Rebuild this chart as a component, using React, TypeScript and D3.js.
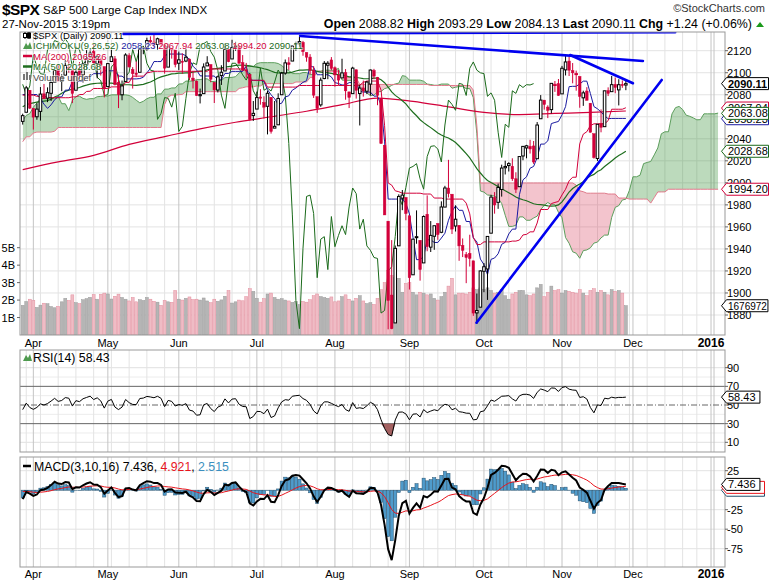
import React from 'react';
import * as d3 from 'd3';

// ---------- DATA ----------
// Warm-up history (3-Dec-2014 .. 26-Mar-2015): high / low / close
const priorHigh = [
  2076.3,2077.3,2079.5,2076.3,2060.6,2058.0,2055.5,2032.2,2018.7,2016.9,2016.9,2061.2,2077.9,2078.8,2086.7,2087.6,2092.7,2093.6,2088.5,2085.6,
  2072.4,2054.4,2030.3,2029.6,2064.1,2064.4,2049.3,2056.9,2018.4,2021.4,2020.5,2028.9,2038.3,2064.6,2062.9,2057.6,2047.9,2042.5,2024.6,2023.3,
  2021.7,2050.3,2054.7,2063.6,2072.4,2056.2,2070.9,2073.5,2088.5,2097.0,2101.3,2100.2,2102.1,2111.0,2110.1,2117.9,2119.6,2113.9,2112.7,
  2117.5,2115.8,2107.7,2104.3,2100.9,2083.5,2076.2,2050.1,2066.4,2064.6,2081.4,2080.6,2106.9,2098.7,2113.9,2114.9,2107.6,2097.4,2067.2];
const priorLow = [
  2066.6,2062.3,2070.8,2054.3,2034.2,2024.3,2026.4,2002.3,1982.3,1972.6,1974.1,2018.7,2061.0,2069.3,2078.8,2081.9,2084.4,2085.8,2079.5,2057.9,
  2046.0,2017.3,1992.4,2005.6,2030.6,2038.3,2022.6,2008.3,1988.4,1991.5,1988.1,2004.5,2012.0,2026.4,2050.5,2040.9,2019.9,2001.5,1989.2,1993.4,
  1980.9,2022.7,2036.7,2043.5,2049.0,2041.9,2048.6,2057.9,2069.9,2086.7,2089.8,2092.2,2090.8,2085.4,2103.0,2105.9,2109.9,2103.8,2103.8,
  2104.5,2098.3,2094.5,2095.2,2067.3,2071.1,2044.2,2039.7,2041.2,2041.2,2055.1,2065.1,2061.2,2085.6,2097.4,2104.4,2091.5,2061.1,2045.5];
const priorClose = [
  2074.33,2071.92,2075.37,2060.31,2059.82,2026.14,2035.33,2002.33,1989.63,1972.74,2012.89,2061.23,2070.65,2078.54,2082.17,2081.88,2088.77,2090.57,2080.35,2058.90,
  2058.20,2020.58,2002.61,2025.90,2062.14,2044.81,2028.26,2023.03,2011.27,1992.67,2019.42,2022.55,2032.12,2063.15,2051.82,2057.09,2029.55,2002.16,2021.25,1994.99,
  2020.85,2050.03,2041.51,2062.52,2055.47,2046.74,2068.59,2068.53,2088.48,2096.99,2100.34,2099.68,2097.45,2110.30,2109.66,2115.48,2113.86,2110.74,2104.50,
  2117.39,2107.78,2098.53,2101.04,2071.26,2079.43,2044.16,2040.24,2065.95,2053.40,2081.19,2074.28,2099.50,2089.27,2108.10,2104.42,2091.50,2061.05,2056.15];

// Displayed candles 27-Mar-2015 .. 27-Nov-2015: [open, high, low, close]
const ohlc: number[][] = [
  [2055.8,2062.8,2052.9,2061.02],[2064.1,2088.0,2064.1,2086.24],[2084.1,2084.1,2067.0,2067.89],
  // Apr
  [2067.6,2067.6,2048.4,2059.69],[2060.0,2072.2,2057.3,2066.96],[2064.9,2087.0,2056.5,2080.62],[2080.8,2089.8,2076.1,2076.33],
  [2076.9,2086.7,2073.3,2081.90],[2081.3,2093.3,2074.3,2091.18],[2091.5,2102.6,2091.5,2102.06],[2102.0,2107.7,2092.3,2092.43],
  [2092.3,2098.6,2083.2,2095.84],[2097.8,2111.9,2097.8,2106.63],[2105.0,2111.3,2100.0,2104.99],[2102.6,2102.6,2072.4,2081.18],
  [2084.1,2103.9,2084.1,2100.40],[2102.8,2109.6,2094.4,2097.29],[2098.3,2109.0,2091.1,2107.96],[2107.2,2120.5,2103.2,2112.93],
  [2114.8,2120.9,2112.8,2117.69],[2119.3,2125.9,2107.0,2108.92],[2108.4,2116.0,2094.9,2114.76],[2112.5,2113.7,2097.4,2106.85],
  [2105.5,2105.5,2077.6,2085.51],
  // May
  [2087.4,2108.4,2087.4,2108.29],[2110.2,2120.9,2110.2,2114.49],[2112.6,2115.2,2088.5,2089.46],[2091.3,2098.4,2067.9,2080.15],
  [2080.0,2092.9,2075.0,2088.00],[2092.1,2117.7,2092.1,2116.10],[2115.6,2117.7,2104.6,2105.33],[2102.9,2105.1,2085.6,2099.12],
  [2099.6,2110.2,2096.0,2098.48],[2100.4,2121.5,2100.4,2121.10],[2122.1,2123.9,2116.8,2122.73],[2121.3,2131.8,2120.0,2129.20],
  [2129.5,2133.0,2124.5,2127.83],[2127.8,2134.7,2122.6,2125.85],[2125.6,2131.8,2120.9,2130.82],[2130.4,2130.4,2123.9,2126.06],
  [2125.3,2125.3,2099.2,2104.20],[2105.1,2126.2,2105.1,2123.48],[2122.3,2122.3,2112.8,2120.79],[2120.7,2120.7,2104.9,2107.39],
  // Jun
  [2108.6,2119.2,2102.5,2111.73],[2110.4,2117.6,2099.1,2109.60],[2110.6,2121.9,2109.6,2114.07],[2112.4,2112.9,2093.2,2095.84],
  [2095.1,2101.0,2085.7,2092.83],[2092.3,2093.0,2079.1,2079.28],[2079.1,2085.6,2072.1,2080.15],[2081.0,2108.5,2081.0,2105.20],
  [2106.2,2115.0,2106.2,2108.86],[2107.4,2107.4,2091.3,2094.11],[2091.3,2091.3,2072.5,2084.43],[2084.3,2097.4,2082.1,2096.29],
  [2097.4,2106.8,2088.9,2100.44],[2101.6,2126.6,2101.6,2121.24],[2121.1,2121.6,2109.5,2109.99],[2112.5,2129.9,2112.5,2122.85],
  [2123.2,2128.0,2119.9,2124.20],[2123.2,2125.1,2108.6,2108.58],[2109.1,2116.0,2101.8,2102.31],[2102.6,2108.9,2095.4,2101.49],
  [2098.6,2098.6,2056.6,2057.64],[2061.2,2074.3,2056.3,2063.11],
  // Jul
  [2067.0,2082.8,2067.0,2077.42],[2078.0,2085.1,2071.0,2076.78],[2073.0,2078.6,2058.4,2068.76],[2069.5,2083.7,2044.0,2081.34],
  [2077.7,2077.7,2044.7,2046.68],[2049.7,2074.3,2049.7,2051.31],[2052.7,2081.3,2052.7,2076.62],[2080.0,2100.7,2080.0,2099.60],
  [2099.7,2112.0,2098.2,2108.95],[2109.0,2114.1,2102.5,2107.40],[2110.6,2124.4,2110.6,2124.29],[2126.8,2128.1,2119.9,2126.64],
  [2126.9,2132.8,2123.7,2128.28],[2127.5,2128.9,2115.4,2119.21],[2118.2,2118.5,2110.0,2114.15],[2114.2,2116.9,2098.6,2102.15],
  [2102.2,2106.0,2077.1,2079.65],[2078.2,2078.2,2063.5,2067.64],[2070.8,2095.6,2069.1,2093.25],[2094.7,2110.6,2094.1,2108.57],
  [2106.8,2110.5,2094.1,2108.63],[2111.6,2114.2,2102.1,2103.84],
  // Aug
  [2104.5,2105.7,2087.3,2098.04],[2097.7,2102.5,2088.6,2093.32],[2095.3,2112.7,2095.3,2099.84],[2100.0,2103.3,2075.5,2083.56],
  [2082.6,2082.6,2067.9,2077.57],[2081.0,2105.4,2081.0,2104.18],[2102.7,2102.7,2076.5,2084.07],[2081.1,2089.1,2052.1,2086.05],
  [2086.2,2092.9,2078.3,2083.39],[2083.2,2092.5,2080.6,2091.54],[2089.7,2102.9,2079.3,2102.44],[2102.0,2103.5,2094.1,2096.92],
  [2095.7,2096.2,2070.5,2079.61],[2076.6,2076.6,2035.7,2035.73],[2034.1,2034.1,1970.9,1970.89],[1965.2,1965.2,1867.0,1893.21],
  [1898.1,1948.0,1867.1,1867.61],[1872.8,1943.1,1872.8,1940.51],[1942.8,1989.6,1942.8,1987.66],[1986.1,1993.5,1975.2,1988.87],
  [1986.7,1986.7,1966.0,1972.18],
  // Sep
  [1970.1,1970.1,1903.1,1913.85],[1916.5,1948.9,1916.5,1948.86],[1950.8,1975.0,1944.7,1951.13],[1947.8,1947.8,1911.2,1921.22],
  [1927.3,1970.4,1927.3,1969.41],[1971.5,1988.6,1937.9,1942.04],[1941.6,1965.3,1937.2,1952.29],[1951.5,1961.1,1939.2,1961.05],
  [1963.1,1963.1,1948.3,1953.03],[1955.1,1983.2,1954.3,1978.09],[1978.0,1997.3,1977.9,1995.31],[1995.3,2020.9,1986.7,1990.20],
  [1989.7,1989.7,1953.5,1958.03],[1960.8,1979.6,1955.8,1966.97],[1961.4,1961.4,1929.2,1942.74],[1943.2,1949.5,1932.6,1938.76],
  [1934.8,1937.2,1908.9,1932.24],[1935.9,1952.9,1924.0,1931.34],[1929.2,1929.2,1879.2,1881.77],[1881.9,1899.5,1871.9,1884.09],
  [1887.1,1920.5,1887.1,1920.03],
  // Oct
  [1919.7,1927.2,1900.7,1923.82],[1921.8,1951.4,1893.7,1951.36],[1954.3,1989.2,1954.3,1987.05],[1986.6,1991.6,1972.0,1979.92],
  [1982.3,1999.3,1976.4,1995.83],[1994.0,2016.5,1987.5,2013.43],[2013.7,2020.1,2007.6,2014.89],[2015.7,2018.7,2010.3,2017.46],
  [2015.0,2022.3,2001.8,2003.69],[2003.7,2009.6,1990.7,1994.24],[1996.5,2024.2,1996.5,2023.86],[2024.4,2033.5,2020.5,2033.11],
  [2031.7,2034.5,2022.3,2033.66],[2033.1,2039.1,2026.6,2030.77],[2033.5,2038.0,2017.2,2018.94],[2021.9,2055.2,2021.9,2052.51],
  [2058.2,2079.7,2058.2,2075.15],[2075.1,2075.1,2066.5,2071.18],[2068.8,2070.4,2058.8,2065.89],[2066.5,2090.4,2063.1,2090.35],
  [2088.4,2092.5,2082.6,2089.41],[2090.0,2094.3,2079.1,2079.36],
  // Nov
  [2080.8,2106.2,2080.8,2104.05],[2102.6,2116.5,2097.5,2109.79],[2110.6,2114.6,2097.0,2102.31],[2101.9,2108.8,2090.4,2099.93],
  [2098.6,2101.9,2083.7,2099.20],[2096.6,2096.6,2068.2,2078.58],[2077.2,2083.7,2069.9,2081.72],[2083.4,2086.9,2074.9,2075.00],
  [2072.3,2072.3,2045.7,2045.97],[2044.6,2044.6,2022.0,2023.04],[2022.1,2053.2,2019.9,2053.19],[2053.7,2066.7,2045.9,2050.44],
  [2051.0,2083.6,2051.0,2083.58],[2083.7,2086.7,2078.8,2081.24],[2082.8,2097.1,2082.8,2089.17],[2089.4,2095.6,2081.4,2086.59],
  [2084.4,2094.1,2070.3,2089.14],[2089.3,2093.0,2086.3,2088.87],[2088.82,2093.29,2084.13,2090.11]];

// Volume, billions of shares
const volumeB = [
  1.70,1.92,2.05,
  1.98,1.58,1.71,1.82,1.79,1.63,1.56,1.64,1.90,2.10,1.98,2.30,1.85,1.80,2.02,2.08,2.16,2.31,2.05,2.33,2.40,
  2.35,2.06,2.22,2.34,2.15,2.05,1.95,2.15,1.90,2.02,1.98,2.15,2.05,1.93,1.88,1.70,1.98,1.90,1.87,2.55,
  2.05,2.00,2.10,2.18,2.03,2.05,2.00,2.12,1.95,1.85,2.05,1.93,2.01,2.22,2.55,1.83,1.90,2.00,1.96,2.20,2.65,2.50,
  2.10,1.88,2.08,2.35,2.40,2.15,2.05,2.08,2.00,1.95,1.87,1.92,1.75,1.92,1.88,2.02,2.25,2.35,2.20,2.15,2.10,2.18,
  1.90,1.95,2.20,2.30,2.05,1.95,2.10,2.25,1.95,1.80,1.85,1.75,2.10,2.60,3.00,3.70,3.40,3.30,3.25,2.45,2.95,
  3.00,2.45,2.30,2.45,2.40,2.30,2.35,2.10,2.00,2.20,2.45,2.80,3.25,2.30,2.40,2.40,2.35,2.45,2.70,2.60,2.70,
  2.60,2.70,2.55,2.40,2.45,2.60,2.25,2.05,2.35,2.45,2.55,2.55,2.30,2.25,2.35,2.70,2.90,2.20,2.45,2.80,2.55,2.60,
  2.40,2.55,2.50,2.45,2.40,2.60,2.40,2.25,2.55,2.65,2.45,2.55,2.45,2.30,2.60,2.50,2.55,2.40,1.68];

// 200-day moving average: [day index, value]
const ma200Points = [[0,2012],[10,2019],[20,2025],[30,2035],[40,2042],[50,2049],[60,2055],[70,2060],[80,2065],
  [90,2071],[100,2077],[110,2074],[120,2069],[130,2064],[140,2062],[150,2063],[160,2064],[170,2065.26]];

// Hand-drawn trend lines: [[day index, price], [day index, price]]
const trendLines = [
  [[28.3,2135.3],[183.9,2136.7]],
  [[78.2,2133.4],[174.8,2110.7]],
  [[154.3,2116.1],[172.0,2090.4]],
  [[127.9,1873.0],[180.1,2093.4]]];

const holidays = ['2014-12-25','2015-01-01','2015-01-19','2015-02-16','2015-04-03','2015-05-25',
  '2015-07-03','2015-09-07','2015-11-26','2015-12-25','2016-01-01'];

const priceTicks = [1880,1900,1920,1940,1960,1980,2000,2020,2040,2060,2080,2100,2120];
const volTicks = [1,2,3,4,5];
const rsiTicks = [10,30,50,70,90];
const macdTicks = [25,0,-25,-50,-75];

const lastValues = { close: '2090.11', tenkan: '2058.23', kijun: '2067.94', spanA: '2063.08', spanB: '1994.20',
  ma200: '2065.26', ma50: '2028.68', volume: '1676972', rsi: '58.43', macd: '7.436', signal: '4.921', hist: '2.515' };

// ---------- LAYOUT ----------
const FONT = '"Liberation Sans", Arial, sans-serif';
const X0 = 20, X1 = 725;
const PT = 32, PB = 335;
const RT = 350, RB = 452;
const MT = 457, MB = 567;
const RED = '#d2003a';

function tradingDays(start: Date, count: number) {
  const out: Date[] = [];
  const d = new Date(start.getTime());
  while (out.length < count) {
    const dow = d.getUTCDay();
    const key = d.toISOString().slice(0, 10);
    if (dow !== 0 && dow !== 6 && !holidays.includes(key)) out.push(new Date(d.getTime()));
    d.setUTCDate(d.getUTCDate() + 1);
  }
  return out;
}

function Tag({ y, text, color, bold, size }: { y: number; text: string; color: string; bold?: boolean; size?: number }) {
  const fs = size || 11;
  const x0 = 721.5, h = 12;
  const w = Math.min(text.length * fs * 0.535 + 4, 769 - x0 - 5.5);
  return (
    <g>
      <path d={`M${x0},${y} L${x0 + 5},${y - h / 2} H${x0 + 5 + w} V${y + h / 2} H${x0 + 5} Z`}
        fill="#fff" stroke={color} strokeWidth={1} />
      <text x={x0 + 6.5} y={y + 4} fontSize={fs} fontWeight={bold ? 'bold' : 'normal'} fill="#000"
        fontFamily={FONT}>{text}</text>
    </g>
  );
}

export default function App() {
  const P = priorClose.length;
  const N = ohlc.length;
  const Hh = priorHigh.concat(ohlc.map(d => d[1]));
  const Ll = priorLow.concat(ohlc.map(d => d[2]));
  const Cc = priorClose.concat(ohlc.map(d => d[3]));
  const M = Cc.length;

  const days = tradingDays(new Date(Date.UTC(2014, 11, 3)), P + 205);

  const x = d3.scaleLinear().domain([-0.761, 197.94]).range([X0, X1]);
  const step = x(1) - x(0);
  const yP = d3.scaleLinear().domain([1880, 2120]).range([315, 50.7]);
  const yV = d3.scaleLinear().domain([0, 5]).range([PB, 247.7]);
  const yR = d3.scaleLinear().domain([10, 90]).range([442.3, 367.7]);
  const yM = d3.scaleLinear().domain([-75, 25]).range([548.7, 470.7]);

  // indicators
  const mid = (j: number, n: number) => {
    if (j - n + 1 < 0) return NaN;
    let hi = -Infinity, lo = Infinity;
    for (let k = j - n + 1; k <= j; k++) { hi = Math.max(hi, Hh[k]); lo = Math.min(lo, Ll[k]); }
    return (hi + lo) / 2;
  };
  const tenkan = d3.range(N).map(i => [i, mid(i + P, 9)]);
  const kijun = d3.range(N).map(i => [i, mid(i + P, 26)]);
  const cloud = d3.range(0, N + 26).map(i => {
    const j = i + P - 26;
    return { i, a: (mid(j, 9) + mid(j, 26)) / 2, b: mid(j, 52) };
  });
  const chikou = d3.range(0, N - 26).map(i => [i, Cc[i + P + 26]]);
  const ma50 = d3.range(N).map(i => [i, d3.mean(Cc.slice(i + P - 49, i + P + 1)) as number]);

  // RSI(14)
  const rsiAll: number[] = new Array(M).fill(NaN);
  let ag = 0, al = 0;
  for (let j = 1; j < M; j++) {
    const ch = Cc[j] - Cc[j - 1];
    const g = Math.max(ch, 0), l = Math.max(-ch, 0);
    if (j <= 14) { ag += g / 14; al += l / 14; if (j === 14) rsiAll[j] = 100 - 100 / (1 + ag / al); }
    else { ag = (ag * 13 + g) / 14; al = (al * 13 + l) / 14; rsiAll[j] = 100 - 100 / (1 + ag / al); }
  }
  const rsi = d3.range(N).map(i => [i, rsiAll[i + P]]);

  // MACD(3,10,16)
  const ema = (arr: number[], n: number) => {
    const k = 2 / (n + 1); const out: number[] = [];
    arr.forEach((v, idx) => out.push(idx === 0 ? v : v * k + out[idx - 1] * (1 - k)));
    return out;
  };
  const e3 = ema(Cc, 3), e10 = ema(Cc, 10);
  const macdAll = Cc.map((_, j) => e3[j] - e10[j]);
  const sigAll = ema(macdAll, 16);
  const macd = d3.range(N).map(i => [i, macdAll[i + P]]);
  const sig = d3.range(N).map(i => [i, sigAll[i + P]]);
  const hist = d3.range(N).map(i => macdAll[i + P] - sigAll[i + P]);

  // gridlines & month labels
  const vlines: { i: number; kind: string; label?: string }[] = [];
  for (let i = 0; i <= 197; i++) {
    const d = days[i + P], p = days[i + P - 1];
    const month = d.getUTCMonth() !== p.getUTCMonth();
    const week = d.getUTCDay() <= p.getUTCDay();
    if (month) {
      const isYear = d.getUTCMonth() === 0;
      vlines.push({ i, kind: isYear ? 'year' : 'month', label: isYear ? d3.utcFormat('%Y')(d) : d3.utcFormat('%b')(d) });
    } else if (week) vlines.push({ i, kind: 'week' });
  }

  const lineP = (pts: number[][]) => d3.line().x(d => x(d[0])).y(d => yP(d[1]))(pts as any) || '';
  const ma200Path = d3.line().x((d: any) => x(d[0])).y((d: any) => yP(d[1])).curve(d3.curveMonotoneX)(ma200Points as any) || '';

  const areaAB = d3.area<any>().x(d => x(d.i)).y0(d => yP(d.a)).y1(d => yP(d.b))(cloud) || '';
  const aboveB = d3.area<any>().x(d => x(d.i)).y0(PT - 50).y1(d => yP(d.b))(cloud) || '';
  const belowB = d3.area<any>().x(d => x(d.i)).y0(PB + 50).y1(d => yP(d.b))(cloud) || '';

  const rsiPath = d3.line().x(d => x(d[0])).y(d => yR(d[1]))(rsi as any) || '';
  const rsiLow = d3.area<any>().x(d => x(d[0])).y0(yR(30)).y1(d => yR(Math.min(d[1], 30)))(rsi) || '';
  const macdPath = d3.line().x(d => x(d[0])).y(d => yM(d[1]))(macd as any) || '';
  const sigPath = d3.line().x(d => x(d[0])).y(d => yM(d[1]))(sig as any) || '';

  const vGrid = (top: number, bottom: number) => vlines.map((v, k) => (
    <g key={k}>
      <line x1={x(v.i)} x2={x(v.i)} y1={top} y2={bottom}
        stroke={v.kind === 'week' ? '#e3e3e3' : '#c4c4c4'} strokeWidth={1} />
      {v.kind === 'year' && <line x1={x(v.i) + 3} x2={x(v.i) + 3} y1={top} y2={bottom} stroke="#c4c4c4" />}
    </g>
  ));

  const monthLabels = (yy: number) => vlines.filter(v => v.label).map((v, k) => (
    <text key={k} x={x(v.i)} y={yy} textAnchor="middle" fontSize={v.kind === 'year' ? 12 : 11}
      fontWeight={v.kind === 'year' ? 'bold' : 'normal'} fontFamily={FONT} fill="#000">{v.label}</text>
  ));

  const bw = step * 0.72;
  const halo = { stroke: '#fff', strokeWidth: 2, strokeOpacity: 0.55, paintOrder: 'stroke' } as any;

  return (
    <div style={{ position: 'absolute', left: 0, top: 0 }}>
      <svg width={769} height={581} style={{ display: 'block', background: '#fff' }} fontFamily={FONT}>
        <defs>
          <clipPath id="cp"><rect x={X0} y={PT} width={X1 - X0} height={PB - PT} /></clipPath>
          <clipPath id="cr"><rect x={X0} y={RT} width={X1 - X0} height={RB - RT} /></clipPath>
          <clipPath id="cm"><rect x={X0} y={MT} width={X1 - X0} height={MB - MT} /></clipPath>
          <clipPath id="cabove"><path d={aboveB} /></clipPath>
          <clipPath id="cbelow"><path d={belowB} /></clipPath>
        </defs>

        {/* header */}
        <text x={2} y={15} fontSize={15.5} fontWeight="bold" letterSpacing={-0.6} fill="#000">$SPX</text>
        <text x={43} y={14} fontSize={11.5} fill="#000">S&amp;P 500 Large Cap Index  INDX</text>
        <text x={765} y={12} fontSize={11} textAnchor="end" fill="#333">©StockCharts.com</text>
        <text x={2} y={28} fontSize={11.5} fill="#000">27-Nov-2015 3:19pm</text>
        <text x={752} y={28} fontSize={12.4} textAnchor="end" fill="#000">
          <tspan fontWeight="bold">Open</tspan> 2088.82 <tspan fontWeight="bold">High</tspan> 2093.29{' '}
          <tspan fontWeight="bold">Low</tspan> 2084.13 <tspan fontWeight="bold">Last</tspan> 2090.11{' '}
          <tspan fontWeight="bold">Chg</tspan> +1.24 (+0.06%)
        </text>
        <path d="M756,27 L760,22 L764,27 Z" fill="#1a9a1a" />

        {/* ---------- PRICE PANEL ---------- */}
        <g>
          {priceTicks.map(t => <line key={t} x1={X0} x2={X1} y1={yP(t)} y2={yP(t)} stroke="#e3e3e3" />)}
          {vGrid(PT, PB)}
        </g>
        <g clipPath="url(#cp)">
          {/* volume */}
          {volumeB.map((v, i) => {
            const up = ohlc[i][3] >= (i === 0 ? priorClose[P - 1] : ohlc[i - 1][3]);
            return <rect key={i} x={x(i) - step / 2 + 0.3} y={yV(v)} width={step - 0.6} height={PB - yV(v)}
              fill={up ? '#b5b5b5' : '#efbcc5'} stroke={up ? '#9b9b9b' : '#e38d9d'} strokeWidth={0.5} />;
          })}
          {/* cloud */}
          <path d={areaAB} fill="#2e8b2e" fillOpacity={0.32} clipPath="url(#cabove)" />
          <path d={areaAB} fill="#d83c58" fillOpacity={0.3} clipPath="url(#cbelow)" />
          <path d={lineP(cloud.map(c => [c.i, c.a]))} fill="none" stroke="#5c9e5c" strokeWidth={1} />
          <path d={lineP(cloud.map(c => [c.i, c.b]))} fill="none" stroke="#e27a8c" strokeWidth={1} />
          {/* moving averages */}
          <path d={ma200Path} fill="none" stroke={RED} strokeWidth={1.2} />
          <path d={lineP(ma50)} fill="none" stroke="#1e6e1e" strokeWidth={1.2} />
          {/* ichimoku lines */}
          <path d={lineP(chikou)} fill="none" stroke="#1a6a1a" strokeWidth={1} />
          <path d={lineP(tenkan)} fill="none" stroke="#1a1aa0" strokeWidth={1} />
          <path d={lineP(kijun)} fill="none" stroke={RED} strokeWidth={1} />
          {/* candles */}
          {ohlc.map((d, i) => {
            const [o, h, l, c] = d;
            const pc = i === 0 ? priorClose[P - 1] : ohlc[i - 1][3];
            const col = c >= pc ? '#000' : RED;
            const filled = c < o;
            const top = yP(Math.max(o, c)), bot = yP(Math.min(o, c));
            return (
              <g key={i}>
                <line x1={x(i)} x2={x(i)} y1={yP(h)} y2={yP(l)} stroke={col} strokeWidth={1} />
                <rect x={x(i) - bw / 2} y={top} width={bw} height={Math.max(bot - top, 1)}
                  fill={filled ? col : '#fff'} stroke={col} strokeWidth={filled ? 0.5 : 1} />
              </g>
            );
          })}
          {/* trend lines */}
          {trendLines.map((t, k) => (
            <line key={k} x1={x(t[0][0])} y1={yP(t[0][1])} x2={x(t[1][0])} y2={yP(t[1][1])}
              stroke="#0000f0" strokeWidth={2.6} strokeLinecap="round" />
          ))}
        </g>
        <rect x={X0} y={PT} width={X1 - X0} height={PB - PT} fill="none" stroke="#999" />

        {/* price legend */}
        <g fontSize={9.5}>
          <g stroke="#000" strokeWidth={1}>
            <line x1={25} x2={25} y1={32} y2={39} /><rect x={23.5} y={33.5} width={3} height={4} fill="#fff" />
            <line x1={29} x2={29} y1={32} y2={39} /><rect x={27.5} y={33} width={3} height={5} fill="#000" />
          </g>
          <text x={33} y={38.5} fill="#000" {...halo}>$SPX (Daily) {lastValues.close}</text>
          <path d="M23,49 L26,43 L28,46 L30,42 L32,49 Z" fill="#4e9a4e" />
          <text x={33} y={49} {...halo}>
            <tspan fill="#1a6a1a">ICHIMOKU(9,26,52) </tspan>
            <tspan fill="#1a1aa0">{lastValues.tenkan} </tspan>
            <tspan fill={RED}>{lastValues.kijun} </tspan>
            <tspan fill="#1a6a1a">{lastValues.spanA} </tspan>
            <tspan fill={RED}>{lastValues.spanB} </tspan>
            <tspan fill="#1a6a1a">{lastValues.close}</tspan>
          </text>
          <line x1={23} x2={32} y1={56} y2={56} stroke={RED} strokeWidth={2.5} />
          <text x={33} y={59.5} fill={RED} {...halo}>MA(200) {lastValues.ma200}</text>
          <line x1={23} x2={32} y1={66.5} y2={66.5} stroke="#1e6e1e" strokeWidth={2.5} />
          <text x={33} y={70} fill="#1e6e1e" {...halo}>MA(50) {lastValues.ma50}</text>
          <g fill="#777">
            <rect x={23} y={74} width={2} height={6} /><rect x={26} y={72} width={2} height={8} /><rect x={29} y={75} width={2} height={5} />
          </g>
          <text x={33} y={80.5} fill="#444" {...halo}>Volume undef</text>
        </g>

        {/* price axis */}
        {priceTicks.map(t => (
          <g key={t}>
            <line x1={X1} x2={X1 + 3} y1={yP(t)} y2={yP(t)} stroke="#666" />
            <text x={727} y={yP(t) + 4} fontSize={11} fill="#000">{t}</text>
          </g>
        ))}
        {volTicks.map(t => (
          <g key={t}>
            <line x1={X0 - 3} x2={X0} y1={yV(t)} y2={yV(t)} stroke="#666" />
            <text x={15} y={yV(t) + 4} fontSize={11} textAnchor="end" fill="#000">{t}B</text>
          </g>
        ))}
        <Tag y={yP(+lastValues.kijun)} text={lastValues.kijun} color={RED} />
        <Tag y={yP(+lastValues.tenkan)} text={lastValues.tenkan} color="#1a1aa0" />
        <Tag y={yP(+lastValues.spanA)} text={lastValues.spanA} color="#1a6a1a" />
        <Tag y={yP(+lastValues.ma50)} text={lastValues.ma50} color="#1a6a1a" />
        <Tag y={yP(+lastValues.spanB)} text={lastValues.spanB} color={RED} />
        <Tag y={yV(+lastValues.volume / 1e6)} text={lastValues.volume} color="#000" size={10} />
        <Tag y={yP(+lastValues.close)} text={lastValues.close} color="#000" bold />

        {monthLabels(346.5)}

        {/* ---------- RSI PANEL ---------- */}
        <g>
          {[20, 40, 60, 80].map(t => <line key={t} x1={X0} x2={X1} y1={yR(t)} y2={yR(t)} stroke="#ececec" />)}
          {[10, 90].map(t => <line key={t} x1={X0} x2={X1} y1={yR(t)} y2={yR(t)} stroke="#e0e0e0" />)}
          {vGrid(RT, RB)}
          <line x1={X0} x2={X1} y1={yR(70)} y2={yR(70)} stroke="#666" />
          <line x1={X0} x2={X1} y1={yR(30)} y2={yR(30)} stroke="#666" />
          <line x1={X0} x2={X1} y1={yR(50)} y2={yR(50)} stroke="#666" strokeDasharray="6,2,1,2" />
        </g>
        <g clipPath="url(#cr)">
          <path d={rsiLow} fill="#9a5050" fillOpacity={0.9} />
          <path d={rsiPath} fill="none" stroke="#000" strokeWidth={1} />
        </g>
        <rect x={X0} y={RT} width={X1 - X0} height={RB - RT} fill="none" stroke="#999" />
        <path d="M23,361 L26,355 L28,358 L30,354 L32,361 Z" fill="#4e9a4e" />
        <text x={33} y={362} fontSize={12.3} fill="#000">RSI(14) {lastValues.rsi}</text>
        {rsiTicks.map(t => (
          <g key={t}>
            <line x1={X1} x2={X1 + 3} y1={yR(t)} y2={yR(t)} stroke="#666" />
            <text x={727} y={yR(t) + 4} fontSize={11} fill="#000">{t}</text>
          </g>
        ))}
        <Tag y={yR(+lastValues.rsi)} text={lastValues.rsi} color="#000" />

        {/* ---------- MACD PANEL ---------- */}
        <g>
          {macdTicks.map(t => <line key={t} x1={X0} x2={X1} y1={yM(t)} y2={yM(t)} stroke="#e3e3e3" />)}
          {vGrid(MT, MB)}
        </g>
        <g clipPath="url(#cm)">
          {hist.map((h, i) => (
            <rect key={i} x={x(i) - step / 2 + 0.2} y={Math.min(yM(h), yM(0))} width={step - 0.4}
              height={Math.abs(yM(h) - yM(0))} fill="#4f9bcb" stroke="#24506e" strokeWidth={0.5} />
          ))}
          <path d={sigPath} fill="none" stroke="#e8141c" strokeWidth={1} />
          <path d={macdPath} fill="none" stroke="#000" strokeWidth={2} />
        </g>
        <rect x={X0} y={MT} width={X1 - X0} height={MB - MT} fill="none" stroke="#999" />
        <line x1={23} x2={31} y1={466} y2={466} stroke="#000" strokeWidth={2.5} />
        <text x={34} y={470.5} fontSize={12.3}>
          <tspan fill="#000">MACD(3,10,16) {lastValues.macd}, </tspan>
          <tspan fill="#e8141c">{lastValues.signal}</tspan>
          <tspan fill="#000">, </tspan>
          <tspan fill="#3a8fc0">{lastValues.hist}</tspan>
        </text>
        {macdTicks.filter(t => t !== 0).map(t => (
          <g key={t}>
            <line x1={X1} x2={X1 + 3} y1={yM(t)} y2={yM(t)} stroke="#666" />
            <text x={727} y={yM(t) + 4} fontSize={11} fill="#000">{t}</text>
          </g>
        ))}
        <g>
          <path d={`M721.5,${yM(+lastValues.hist) + 2} l5,-6 h38 v12 h-38 Z`} fill="#fff" stroke="#24506e" />
          <path d={`M721.5,${yM(+lastValues.signal) + 1} l5,-6 h38 v12 h-38 Z`} fill="#fff" stroke="#e8141c" />
        </g>
        <Tag y={yM(+lastValues.macd)} text={lastValues.macd} color="#000" />

        {monthLabels(578)}
      </svg>
    </div>
  );
}
